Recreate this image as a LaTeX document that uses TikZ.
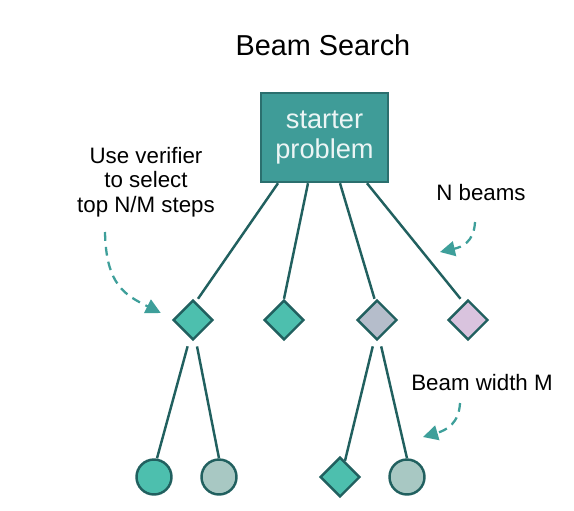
\documentclass[tikz,border=0pt]{standalone}
\usepackage{fontspec}
\setmainfont{Liberation Sans}
\usetikzlibrary{shapes.geometric,arrows.meta}
\definecolor{boxteal}{HTML}{3F9C98}
\definecolor{boxedge}{HTML}{2B6F6E}
\definecolor{edgeteal}{HTML}{21605F}
\definecolor{leafteal}{HTML}{4DBFAE}
\definecolor{leafgray}{HTML}{A8C8C3}
\definecolor{leaflav}{HTML}{B5BDCB}
\definecolor{leafpink}{HTML}{D9C3DE}
\definecolor{hintteal}{HTML}{3E9F9A}
\begin{document}
\begin{tikzpicture}[x=0.02cm, y=-0.02cm,
    rootbox/.style={draw=boxedge, fill=boxteal, line width=1.4pt, minimum width=2.54cm,
        minimum height=1.78cm, text=white!90!boxteal, font=\fontsize{15.5}{17}\selectfont, align=center},
    dia/.style={diamond, draw=edgeteal, line width=1.4pt, minimum size=0.8cm, inner sep=0pt},
    leaf/.style={circle, draw=edgeteal, line width=1.4pt, minimum size=0.7cm, inner sep=0pt},
    branch/.style={edgeteal, line width=1.4pt},
    hint/.style={hintteal, line width=1.3pt, dash pattern=on 5pt off 3.5pt,
        -{Triangle[length=8.5pt,width=8.5pt]}},
    note/.style={align=center, font=\fontsize{12.7}{14}\selectfont}]
    \useasboundingbox (0,0) rectangle (574,510);
    \node (title) at (323,45) {\fontsize{16.4}{18}\selectfont Beam Search};
    \node[rootbox] (root) at (324.5,137.5) {starter\\problem};
    % first level
    \node[dia, fill=leafteal] (d1) at (193,320) {};
    \node[dia, fill=leafteal] (d2) at (284,320) {};
    \node[dia, fill=leaflav] (d3) at (377,320) {};
    \node[dia, fill=leafpink] (d4) at (468,320) {};
    \draw[branch] ([xshift=-0.93cm]root.south) -- ([xshift=0.1cm]d1.north);
    \draw[branch] ([xshift=-0.33cm]root.south) -- (d2.north);
    \draw[branch] ([xshift=0.31cm]root.south) -- ([xshift=-0.05cm]d3.north);
    \draw[branch] ([xshift=0.85cm]root.south) -- ([xshift=-0.15cm]d4.north);
    % second level
    \node[leaf, fill=leafteal] (c1) at (154,477) {};
    \node[leaf, fill=leafgray] (c2) at (219,477) {};
    \node[dia, fill=leafteal] (e3) at (340,477) {};
    \node[leaf, fill=leafgray] (c4) at (407,477) {};
    \draw[branch, shorten <=3pt] ([xshift=-0.08cm]d1.south) -- ([xshift=0.06cm]c1.north);
    \draw[branch, shorten <=3pt] ([xshift=0.06cm]d1.south) -- (c2.north);
    \draw[branch, shorten <=3pt] ([xshift=-0.06cm]d3.south) -- ([xshift=0.1cm,yshift=-0.1cm]e3.north);
    \draw[branch, shorten <=3pt] ([xshift=0.06cm]d3.south) -- (c4.north);
    % notes
    \node[note] (verify) at (146,182) {Use verifier\\to select\\top N/M steps};
    \node[note] (nbeams) at (481,193) {N beams};
    \node[note] (width) at (482,383) {Beam width M};
    \coordinate (h1) at (105,232);
    \coordinate (h2) at (475,222);
    \coordinate (h3) at (460,403);
    \draw[hint] (h1) .. controls (106,285) and (125,295) .. ([shift={(-11,-7)}]d1.west);
    \draw[hint] (h2) .. controls (474,242) and (462,247) .. (440,252);
    \draw[hint] (h3) .. controls (459,423) and (447,430) .. (423,437);
\end{tikzpicture}
\end{document}
